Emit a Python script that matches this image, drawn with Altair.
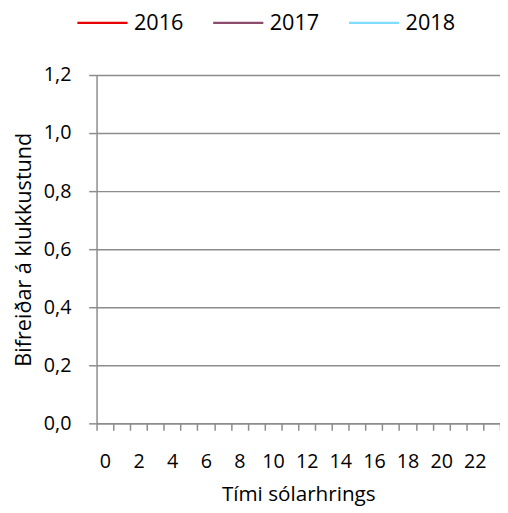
import altair as alt
import pandas as pd

hours = list(range(24))
series_names = ["2016", "2017", "2018"]
series_colors = ["#e60000", "#8c4a6c", "#80dcff"]
# The reference shows no plotted values: every series is empty
values_2016 = [None] * 24
values_2017 = [None] * 24
values_2018 = [None] * 24
y_ticks = [0.0, 0.2, 0.4, 0.6, 0.8, 1.0, 1.2]

rows = []
for name, vals in zip(series_names, [values_2016, values_2017, values_2018]):
    for h, v in zip(hours, vals):
        rows.append({"hour": h, "year": name, "value": v})
df = pd.DataFrame(rows)

FONT = "Open Sans"
GRID = "#8c8c8c"

chart = alt.Chart(df).mark_line(strokeWidth=2.5).encode(
    x=alt.X("hour:O", title="Tími sólarhrings",
            scale=alt.Scale(domain=hours, paddingInner=0, paddingOuter=0),
            axis=alt.Axis(labelAngle=0, tickBand="extent", tickSize=7,
                          labelPadding=22, titlePadding=12, labelFontSize=20,
                          titleFontSize=21,
                          labelExpr="datum.value % 2 == 0 ? datum.label : ''")),
    y=alt.Y("value:Q", title="Bifreiðar á klukkustund",
            scale=alt.Scale(domain=[0, 1.2], nice=False),
            axis=alt.Axis(values=y_ticks, tickSize=8, labelPadding=18,
                          titlePadding=8, grid=True, labelFontSize=20,
                          titleFontSize=22,
                          labelExpr="replace(format(datum.value, '.1f'), '.', ',')")),
    color=alt.Color("year:N", title=None,
                    scale=alt.Scale(domain=series_names, range=series_colors),
                    legend=alt.Legend(orient="none", direction="horizontal",
                                      legendX=-21, legendY=-80,
                                      symbolType="stroke", symbolSize=2601,
                                      symbolStrokeWidth=2.5, labelOffset=5,
                                      columnPadding=24, labelFontSize=22,
                                      labelFont=FONT, labelColor="#000")),
).properties(
    width=410, height=354,
    padding={"left": 90, "top": 64, "right": 0, "bottom": 87},
    autosize=alt.AutoSizeParams(type="none"),
).configure_view(stroke=None).configure_axis(
    labelFont=FONT, titleFont=FONT,
    labelColor="#000", titleColor="#000", titleFontWeight="normal",
    domainColor=GRID, tickColor=GRID, gridColor=GRID,
    domainWidth=1.5, tickWidth=1.5, gridWidth=1.5,
)

chart.save("out.html", embed_options={"renderer": "svg", "actions": False})
